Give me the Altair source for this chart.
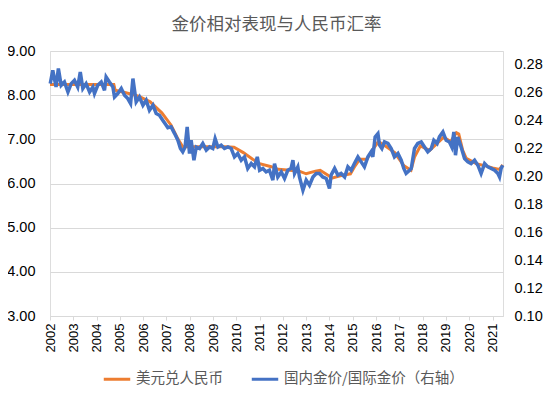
import altair as alt
import pandas as pd

title_text = "金价相对表现与人民币汇率"
name_o = "美元兑人民币"
name_b = "国内金价/国际金价（右轴）"
year_ticks = list(range(2002, 2022))
left_ticks = [3, 4, 5, 6, 7, 8, 9]
right_ticks = [0.10, 0.12, 0.14, 0.16, 0.18, 0.20, 0.22, 0.24, 0.26, 0.28]

orange_t = [2002.00, 2004.74, 2004.80, 2005.30, 2005.80, 2006.30, 2006.80, 2007.20, 2007.50, 2007.70,
            2008.50, 2009.00, 2009.50, 2009.90, 2010.30, 2010.70, 2011.00, 2011.50, 2011.80, 2012.30,
            2012.70, 2013.00, 2013.40, 2013.60, 2013.90, 2014.10, 2014.50, 2014.90, 2015.10, 2015.30,
            2015.60, 2015.90, 2016.10, 2016.40, 2016.80, 2017.20, 2017.50, 2017.65, 2017.90, 2018.30,
            2018.70, 2018.90, 2019.20, 2019.45, 2019.55, 2019.72, 2019.87, 2020.30, 2020.70, 2021.00,
            2021.30, 2021.44]
orange_v = [8.24, 8.24, 8.11, 8.05, 7.98, 7.85, 7.60, 7.32, 7.00, 6.83,
            6.83, 6.83, 6.83, 6.82, 6.70, 6.55, 6.45, 6.38, 6.32, 6.30,
            6.28, 6.22, 6.28, 6.30, 6.20, 6.12, 6.18, 6.22, 6.40, 6.55,
            6.55, 6.80, 6.95, 6.85, 6.70, 6.40, 6.30, 6.60, 6.85, 6.75,
            6.95, 7.05, 6.95, 7.15, 7.12, 6.75, 6.57, 6.45, 6.40, 6.35,
            6.32, 6.42]

blue_t = [2002.01, 2002.12, 2002.26, 2002.36, 2002.48, 2002.62, 2002.77, 2002.91, 2003.05, 2003.19,
          2003.30, 2003.41, 2003.55, 2003.70, 2003.84, 2003.91, 2004.05, 2004.20, 2004.34, 2004.41,
          2004.55, 2004.70, 2004.77, 2004.91, 2005.06, 2005.20, 2005.34, 2005.46, 2005.56, 2005.70,
          2005.84, 2005.99, 2006.13, 2006.27, 2006.42, 2006.56, 2006.70, 2006.84, 2006.99,
          2007.06, 2007.20, 2007.35, 2007.49, 2007.60, 2007.70, 2007.80, 2007.89, 2007.99, 2008.06,
          2008.18, 2008.28, 2008.42, 2008.56, 2008.71, 2008.85, 2008.99, 2009.09, 2009.21, 2009.35,
          2009.49, 2009.64, 2009.78, 2009.92, 2010.06, 2010.21, 2010.35, 2010.49, 2010.64, 2010.78,
          2010.90, 2011.00, 2011.14, 2011.28, 2011.42, 2011.57, 2011.64, 2011.78, 2011.93, 2012.07,
          2012.21,
          2012.35, 2012.43, 2012.50, 2012.64, 2012.71, 2012.86, 2013.00, 2013.14, 2013.29, 2013.43,
          2013.57, 2013.71, 2013.86, 2014.00, 2014.07, 2014.22, 2014.36, 2014.50, 2014.65, 2014.79,
          2014.93, 2015.07, 2015.22, 2015.36, 2015.50, 2015.65, 2015.79, 2015.86, 2015.96, 2016.08,
          2016.15, 2016.25, 2016.36, 2016.51, 2016.65, 2016.79, 2016.94, 2017.08, 2017.19, 2017.29,
          2017.44,
          2017.51, 2017.65, 2017.79, 2017.94, 2018.08, 2018.22, 2018.37, 2018.48, 2018.62, 2018.72,
          2018.87, 2019.01, 2019.15, 2019.25, 2019.34, 2019.41, 2019.51, 2019.65, 2019.80, 2019.94,
          2020.08, 2020.23, 2020.37, 2020.51, 2020.66, 2020.80, 2020.94, 2021.09, 2021.23, 2021.30,
          2021.37, 2021.44]
blue_r = [0.2666, 0.2762, 0.2642, 0.2774, 0.2654, 0.2678, 0.2606, 0.2666, 0.2690, 0.2642,
          0.2750, 0.2631, 0.2666, 0.2606, 0.2642, 0.2595, 0.2654, 0.2678, 0.2618, 0.2714,
          0.2678, 0.2642, 0.2570, 0.2595, 0.2631, 0.2583, 0.2559, 0.2523, 0.2702, 0.2535,
          0.2570, 0.2511, 0.2547, 0.2475, 0.2511, 0.2452, 0.2439, 0.2404, 0.2368,
          0.2350, 0.2356, 0.2308, 0.2260, 0.2201, 0.2177, 0.2212, 0.2356, 0.2165, 0.2260,
          0.2117, 0.2212, 0.2201, 0.2237, 0.2189, 0.2212, 0.2201, 0.2272, 0.2212, 0.2225,
          0.2201, 0.2212, 0.2201, 0.2141, 0.2165, 0.2117, 0.2141, 0.2058, 0.2093, 0.2069,
          0.2141, 0.2045, 0.2058, 0.2033, 0.2045, 0.1974, 0.2093, 0.1997, 0.2033, 0.1986,
          0.2045,
          0.2058, 0.2117, 0.2022, 0.2069, 0.1997, 0.1902, 0.1974, 0.1938, 0.1997, 0.2022,
          0.2022, 0.1997, 0.1986, 0.1914, 0.2010, 0.2058, 0.2010, 0.2022, 0.1997, 0.2069,
          0.2045, 0.2093, 0.2141, 0.2105, 0.2069, 0.2141, 0.2177, 0.2141, 0.2284, 0.2308,
          0.2225, 0.2201, 0.2248, 0.2237, 0.2201, 0.2141, 0.2165, 0.2117, 0.2058, 0.2022,
          0.2045,
          0.2058, 0.2201, 0.2237, 0.2248, 0.2212, 0.2177, 0.2201, 0.2260, 0.2237, 0.2284,
          0.2320, 0.2260, 0.2248, 0.2212, 0.2320, 0.2153, 0.2284, 0.2212, 0.2129, 0.2105,
          0.2093, 0.2117, 0.2081, 0.2022, 0.2093, 0.2069, 0.2058, 0.2045, 0.2022, 0.1997,
          0.2058, 0.2081]

FONT = "Noto Sans CJK SC"
GREY = "#595959"
GRID = "#d9d9d9"

df_o = pd.DataFrame({"t": orange_t, "v": orange_v, "s": name_o})
df_b = pd.DataFrame({"t": blue_t, "r": blue_r, "s": name_b})

x_enc = alt.X(
    "t:Q",
    scale=alt.Scale(domain=[2002, 2021.45], nice=False, zero=False),
    axis=alt.Axis(values=year_ticks, format="d", labelAngle=270, title=None,
                  grid=False, domainColor=GRID, tickColor=GRID, tickSize=4,
                  labelPadding=3, labelFontSize=13),
)

color_enc = alt.Color(
    "s:N",
    scale=alt.Scale(domain=[name_o, name_b], range=["#ED7D31", "#4472C4"]),
    legend=alt.Legend(orient="none", legendX=52, legendY=313, direction="horizontal",
                      symbolType="stroke", symbolSize=700, symbolStrokeWidth=3,
                      labelFontSize=14.5, labelFont=FONT, labelColor=GREY, labelLimit=0,
                      title=None, columnPadding=22, labelOffset=4, padding=0),
)

orange = alt.Chart(df_o).mark_line(strokeWidth=3).encode(
    x=x_enc,
    y=alt.Y("v:Q", scale=alt.Scale(domain=[3, 9], nice=False, zero=False),
            axis=alt.Axis(values=left_ticks, format=".2f", title=None, domain=False,
                          ticks=False, tickSize=0, grid=True, gridColor=GRID,
                          labelPadding=15, orient="left", labelFontSize=14.5)),
    color=color_enc,
)

blue = alt.Chart(df_b).mark_line(strokeWidth=3.5).encode(
    x=x_enc,
    y=alt.Y("r:Q", scale=alt.Scale(domain=[0.10, 0.29], nice=False, zero=False),
            axis=alt.Axis(values=right_ticks, format=".2f", title=None, domain=False,
                          ticks=False, tickSize=0, grid=False,
                          labelPadding=11, orient="right", labelFontSize=14.5)),
    color=color_enc,
)

chart = alt.layer(orange, blue).resolve_scale(y="independent").properties(
    width=453,
    height=265,
    autosize=alt.AutoSizeParams(type="none"),
    padding={"left": 42, "top": 43, "right": 43, "bottom": 72},
    title=alt.TitleParams(title_text, fontSize=17.5, font=FONT, color=GREY,
                          fontWeight="normal", anchor="middle", offset=10),
).configure_view(stroke=None).configure_axis(
    labelFont=FONT, labelColor=GREY,
).configure(background="white")

chart.save("out.html", embed_options={"renderer": "svg", "actions": False})
